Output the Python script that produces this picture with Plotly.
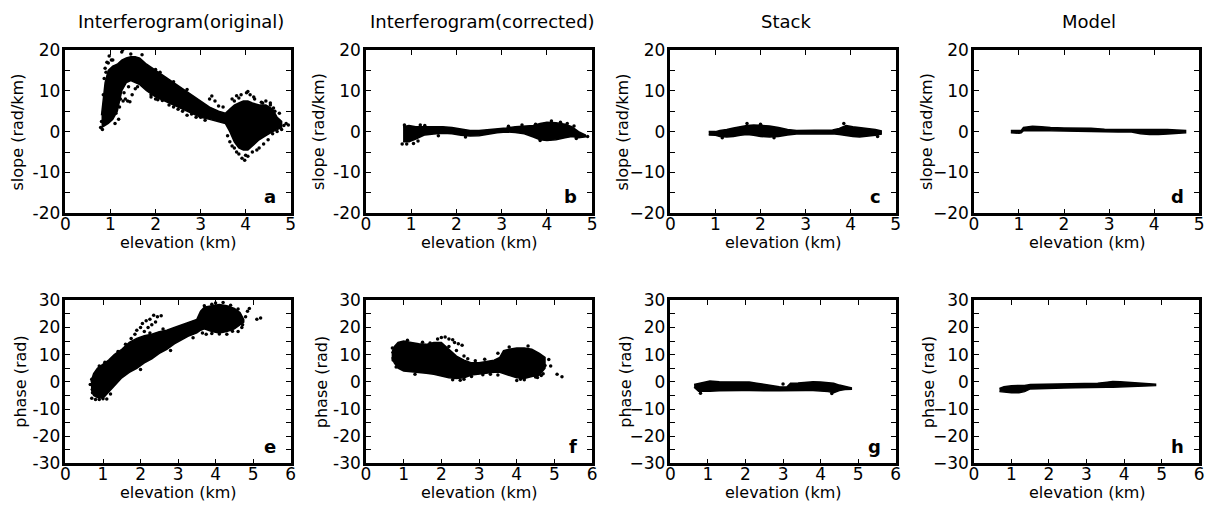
import plotly.graph_objects as go

W, H = 1214, 519

# ---------------- data ----------------
# Each panel: dense cloud envelope (x stations, upper, lower) + scattered outlier points
a_env_x = [0.8, 0.88, 0.95, 1.05, 1.15, 1.25, 1.35, 1.45, 1.55, 1.65, 1.8, 2.0, 2.2, 2.4, 2.6, 2.8, 3.0, 3.2, 3.4, 3.55, 3.65, 3.75, 3.85, 3.95, 4.05, 4.15, 4.3, 4.45, 4.6, 4.7, 4.8]
a_env_top = [4, 12, 15, 16, 16.5, 17.5, 18, 18.3, 18.3, 18, 16.5, 15, 13.5, 12, 10.5, 9, 7.5, 6, 5, 4.5, 5.5, 6.5, 7, 7.5, 7.5, 7, 6.5, 6.5, 5.5, 3.5, 2.5]
a_env_bot = [1, 1.5, 2, 3, 5, 10, 12, 12.5, 12, 11.5, 10, 8.5, 7.5, 6.5, 5.5, 4.5, 3.5, 3, 2.5, 2, 0, -2.5, -4, -4.5, -4.5, -3.5, -2, -1, 0, 0.5, 1]
a_dot_x = [0.78, 0.8, 0.82, 0.85, 0.84, 0.86, 0.9, 0.92, 0.97, 1.02, 1.1, 1.12, 1.18, 1.2, 1.22, 1.28, 1.33, 1.38, 1.43, 1.48, 1.3, 1.25, 1.27, 1.4, 1.55, 1.6, 1.9, 2.05, 2.3, 2.5, 2.7, 2.9, 3.1, 3.25, 3.32, 3.4, 3.5, 3.6, 3.65, 3.7, 3.75, 3.8, 3.85, 3.92, 3.98, 4.05, 4.02, 4.1, 4.15, 4.2, 4.3, 4.38, 4.45, 4.5, 4.55, 4.6, 4.65, 4.7, 4.75, 4.8, 4.85, 4.9, 4.95,
           1.9, 2.0, 2.15, 2.4, 2.6, 2.8, 3.0, 2.0, 2.1, 2.4, 2.7, 3.2, 3.75, 3.85, 3.9, 4.05, 4.18, 4.35, 4.55, 4.62, 4.75, 3.7, 3.8, 4.0, 4.25, 4.4, 1.45, 1.7, 1.05, 0.95, 0.88]
a_dot_y = [1.0, 2.5, 0.5, 5, 9, 13, 14.5, 17, 18.5, 17.5, 2, 4.5, 3, 6, 8, 7.5, 8, 7.5, 7.3, 9, 9.5, 19.5, 20, 11, 10.5, 11, 9, 7.8, 6.5, 5.5, 4, 3.5, 2.8, 8.7, 7.5, 6.3, 6, -1, -2.5, 8, -4, 8.8, -5.5, -6.5, -7, -6, 9.5, 9, -5, 8, -4, 7, 7.5, -2, 6.5, -0.5, 5, 0, 2.5, 0.5, 1.5, 2, 1.6,
           8.5, 8.0, 7.6, 6.0, 5.0, 4.3, 3.5, 15.2, 14.5, 12.2, 10.3, 8.0, 7.5, 8.2, 9.0, 9.8, 8.5, 7.2, 7.0, 5.8, 4.5, -3.5, -5.0, -5.8, -4.5, -3.0, 19.0, 18.8, 17.5, 16.8, 15.5]

b_env_x = [0.82, 0.95, 1.1, 1.3, 1.5, 1.7, 1.9, 2.1, 2.3, 2.5, 2.7, 2.9, 3.1, 3.3, 3.5, 3.7, 3.85, 4.0, 4.2, 4.4, 4.55, 4.7, 4.85]
b_env_top = [1.2, 1.5, 1.2, 1.2, 1.3, 1.2, 1.0, 0.6, 0.3, 0.3, 0.5, 0.6, 0.9, 1.2, 1.3, 1.5, 2.0, 2.3, 2.2, 1.8, 1.2, 0.0, -0.8]
b_env_bot = [-2.5, -2.5, -1.8, -0.8, -0.6, -0.4, -0.5, -0.9, -1.1, -1.0, -0.6, -0.3, -0.1, -0.2, -0.5, -1.3, -2.0, -2.2, -2.0, -1.5, -1.2, -1.5, -1.3]
b_dot_x = [0.8, 0.85, 1.05, 1.3, 3.15, 3.45, 4.1, 4.3, 3.85, 4.9, 4.65, 1.6, 0.9, 1.15, 1.2, 3.75, 4.45, 4.6, 2.2]
b_dot_y = [-3, 1.6, -2.9, 1.5, 1.3, 1.6, 2.6, 2.3, -2.2, -1.2, -1.7, -1.0, -3.0, -2.3, 1.6, 1.8, 2.0, 1.4, -1.3]

c_env_x = [0.85, 1.0, 1.1, 1.25, 1.4, 1.55, 1.7, 1.85, 2.0, 2.2, 2.4, 2.6, 2.8, 3.0, 3.3, 3.6, 3.75, 3.9, 4.05, 4.2, 4.4, 4.55, 4.68]
c_env_top = [0.0, 0.0, 0.3, 0.5, 0.9, 1.2, 1.5, 1.6, 1.5, 1.4, 1.0, 0.5, 0.3, 0.3, 0.3, 0.4, 0.8, 1.5, 1.2, 1.0, 0.8, 0.5, 0.2]
c_env_bot = [-0.8, -0.9, -1.2, -1.3, -1.2, -0.9, -0.7, -0.9, -1.2, -1.3, -1.2, -0.8, -0.6, -0.5, -0.5, -0.5, -0.7, -0.9, -1.2, -1.3, -1.1, -0.9, -0.6]
c_dot_x = [1.7, 2.0, 1.15, 2.3, 3.85, 4.6]
c_dot_y = [2.0, 1.8, -1.5, -1.5, 2.0, -1.2]

d_env_x = [0.82, 1.0, 1.05, 1.1, 1.3, 1.5, 1.7, 2.0, 2.3, 2.6, 2.9, 3.2, 3.5, 3.7, 3.9, 4.1, 4.3, 4.5, 4.7]
d_env_top = [0.3, 0.3, 0.3, 1.0, 1.3, 1.2, 1.0, 0.9, 0.9, 0.8, 0.6, 0.6, 0.6, 0.5, 0.6, 0.6, 0.5, 0.4, 0.3]
d_env_bot = [-0.3, -0.4, -0.3, 0.2, 0.3, 0.3, 0.2, 0.1, 0.1, 0.0, -0.1, -0.1, -0.1, -0.5, -0.7, -0.7, -0.6, -0.5, -0.3]
d_dot_x = []
d_dot_y = []

e_env_x = [0.68, 0.75, 0.85, 1.0, 1.15, 1.3, 1.5, 1.7, 1.9, 2.1, 2.3, 2.5, 2.7, 2.9, 3.1, 3.3, 3.5, 3.6, 3.7, 3.9, 4.1, 4.3, 4.5, 4.65, 4.75]
e_env_top = [0, 3, 5, 6.5, 8, 10, 12, 14.5, 16, 17, 17.5, 18.5, 19, 20, 21, 22, 23, 26, 27.5, 28, 28.5, 28, 27, 25.5, 23]
e_env_bot = [-2.5, -5, -5.8, -6, -4, -1.5, 1.5, 3.5, 5, 7, 8.5, 10.5, 12, 14, 15.5, 17, 18, 19, 19.5, 18.5, 18, 18.5, 19.5, 21, 22]
e_dot_x = [1.75, 1.85, 1.9, 2.0, 2.05, 2.1, 2.15, 2.2, 2.25, 2.3, 2.35, 2.4, 2.45, 2.55, 2.25, 2.4, 2.6, 2.7, 2.2, 2.35, 1.8, 1.6, 3.0, 3.1, 3.3, 3.45, 3.55, 3.65, 3.75, 4.3, 4.6, 4.7, 4.8, 4.85, 4.9, 5.1, 5.2, 1.25, 0.7, 0.8, 1.1,
           0.66, 0.7, 0.72, 0.9, 1.0, 1.2, 0.9, 1.05, 1.4, 1.6, 3.7, 3.9, 4.0, 4.2, 4.4, 4.6, 4.72, 4.45, 4.1, 3.9, 3.4, 2.0, 2.8]
e_dot_y = [16, 17.5, 19, 20, 21.5, 18.5, 22.5, 20, 23, 21, 24.5, 22, 24, 24.3, 18, 15, 19.5, 16.5, 11, 13, 10.5, 8, 16, 18.5, 21, 20, 21, 18, 17.5, 17.5, 18.5, 20, 24, 26, 27, 23, 23.5, 7.5, -6, -6.5, -6.3,
           -1, 1, -4, -6.5, -6.2, -4.5, 5.8, 7.2, 11.2, 13.8, 28, 28.6, 29, 29.2, 28.2, 26.8, 21, 18.6, 17.6, 17.8, 16.2, 4.5, 11.5]

f_env_x = [0.68, 0.75, 0.85, 1.0, 1.2, 1.4, 1.6, 1.8, 2.0, 2.2, 2.4, 2.6, 2.8, 3.0, 3.2, 3.4, 3.55, 3.65, 3.8, 4.0, 4.2, 4.4, 4.6, 4.75]
f_env_top = [10.5, 13, 14.5, 15, 14.5, 14, 13.8, 14.5, 14.5, 12, 9.5, 8, 7, 7, 7.5, 8, 9, 11.5, 12, 12.5, 12.5, 12, 10.5, 9]
f_env_bot = [9, 7, 5, 4, 3.8, 3.5, 3.2, 2.8, 2.2, 1.5, 1.2, 1.5, 2.5, 3, 3.2, 3.5, 3.5, 3.2, 2.5, 1.5, 1.2, 2, 2.5, 5]
f_dot_x = [1.9, 2.0, 2.1, 2.2, 2.3, 2.35, 2.45, 2.55, 2.2, 2.4, 2.6, 2.7, 2.9, 3.15, 3.5, 3.5, 2.5, 2.3, 1.3, 4.0, 4.2, 4.5, 4.65, 4.85, 4.9, 4.75, 5.07, 5.2, 4.3, 3.8,
           0.7, 0.72, 0.8, 1.1, 1.5, 1.7, 2.6, 2.8, 3.1, 3.3, 4.1, 4.55, 4.7]
f_dot_y = [15.8, 16.3, 16.5, 15.8, 15.5, 14.5, 14, 13.5, 13, 11.5, 9.5, 8.5, 7.8, 8.3, 10.5, 2.5, 0.6, 0.8, 2.8, 0.5, 0.8, 1.8, 2.3, 8.2, 5.8, 6, 2.8, 1.9, 13.2, 12.8,
           12.5, 8.0, 5.5, 15.3, 14.6, 14.3, 1.0, 2.0, 2.6, 2.8, 1.0, 1.6, 3.0]

g_env_x = [0.63, 0.75, 0.9, 1.05, 1.3, 1.6, 1.9, 2.1, 2.3, 2.5, 2.7, 2.9, 3.1, 3.2, 3.4, 3.6, 3.8, 4.0, 4.2, 4.35, 4.5, 4.65, 4.82]
g_env_top = [-1.0, -0.6, 0.0, 0.3, 0.0, -0.1, 0.0, -0.1, -0.5, -0.9, -1.4, -1.8, -1.9, -0.5, -0.4, -0.2, 0.0, -0.1, -0.3, -0.5, -1.2, -1.8, -2.2]
g_env_bot = [-2.0, -3.5, -3.6, -3.5, -3.3, -3.2, -3.2, -3.2, -3.2, -3.2, -3.3, -3.3, -3.3, -3.3, -3.3, -3.2, -3.2, -3.3, -3.6, -4.0, -3.2, -2.8, -2.7]
g_dot_x = [0.8, 3.0, 4.3]
g_dot_y = [-4.2, -0.8, -4.3]

h_env_x = [0.68, 0.8, 1.0, 1.2, 1.35, 1.5, 1.8, 2.1, 2.4, 2.7, 3.0, 3.3, 3.55, 3.7, 3.9, 4.1, 4.3, 4.5, 4.7, 4.84]
h_env_top = [-2.4, -1.8, -1.4, -1.4, -1.3, -1.0, -0.9, -0.8, -0.7, -0.7, -0.6, -0.5, -0.1, 0.1, 0.0, -0.2, -0.4, -0.5, -0.7, -0.9]
h_env_bot = [-3.6, -3.9, -4.0, -4.0, -3.6, -2.6, -2.5, -2.4, -2.3, -2.2, -2.1, -2.0, -2.0, -2.0, -1.9, -1.8, -1.7, -1.6, -1.5, -1.4]
h_dot_x = []
h_dot_y = []

titles = ["Interferogram(original)", "Interferogram(corrected)", "Stack", "Model"]
letters = ["a", "b", "c", "d", "e", "f", "g", "h"]
slope_label = "slope (rad/km)"
phase_label = "phase (rad)"
x_label = "elevation (km)"
slope_ticks = [-20, -10, 0, 10, 20]
phase_ticks = [-30, -20, -10, 0, 10, 20, 30]

panels = [
    (a_env_x, a_env_top, a_env_bot, a_dot_x, a_dot_y),
    (b_env_x, b_env_top, b_env_bot, b_dot_x, b_dot_y),
    (c_env_x, c_env_top, c_env_bot, c_dot_x, c_dot_y),
    (d_env_x, d_env_top, d_env_bot, d_dot_x, d_dot_y),
    (e_env_x, e_env_top, e_env_bot, e_dot_x, e_dot_y),
    (f_env_x, f_env_top, f_env_bot, f_dot_x, f_dot_y),
    (g_env_x, g_env_top, g_env_bot, g_dot_x, g_dot_y),
    (h_env_x, h_env_top, h_env_bot, h_dot_x, h_dot_y),
]

# ---------------- layout geometry (pixels) ----------------
cols = [(61, 288), (364, 592), (671, 898), (977, 1204)]
rows = [(41.5, 211.5), (302, 471.5)]
FONT = "DejaVu Sans"

def px(x):
    return x / W

def py(y):
    return 1 - y / H

fig = go.Figure()
layout = dict(
    width=W, height=H, margin=dict(l=0, r=0, t=0, b=0),
    paper_bgcolor="white", plot_bgcolor="white", showlegend=False,
    font=dict(family=FONT, color="black", size=17),
)
annotations = []

for i, (ex, et, eb, dx, dy) in enumerate(panels):
    r, c = divmod(i, 4)
    k = i + 1
    xa = "x" if k == 1 else f"x{k}"
    ya = "y" if k == 1 else f"y{k}"
    fig.add_trace(go.Scatter(
        x=list(ex) + list(ex)[::-1], y=list(et) + list(eb)[::-1],
        mode="lines", fill="toself", fillcolor="black",
        line=dict(color="black", width=1.5), xaxis=xa, yaxis=ya, hoverinfo="skip"))
    if dx:
        fig.add_trace(go.Scatter(
            x=dx, y=dy, mode="markers",
            marker=dict(color="black", size=3.5, line=dict(width=0)),
            xaxis=xa, yaxis=ya))
    l, rr = cols[c]
    t, b = rows[r]
    xmax = 5 if r == 0 else 6
    minus = "-" if c < 2 else "\u2212"
    yt = slope_ticks if r == 0 else phase_ticks
    ytext = [(minus + str(abs(v))) if v < 0 else str(v) for v in yt]
    yminor = [v + 5 for v in yt[:-1]]
    axis_common = dict(
        showline=True, linecolor="black", linewidth=2.5, mirror="allticks",
        ticks="inside", ticklen=5, tickwidth=1, tickcolor="black",
        showgrid=False, zeroline=False, tickfont=dict(family=FONT, size=17, color="black"),
        fixedrange=True,
    )
    layout["xaxis" if k == 1 else f"xaxis{k}"] = dict(
        axis_common, domain=[px(l), px(rr)], range=[0, xmax],
        tickmode="array", tickvals=list(range(0, xmax + 1)),
        ticktext=[str(v) for v in range(0, xmax + 1)],
        anchor=ya, ticklabelstandoff=-6)
    layout["yaxis" if k == 1 else f"yaxis{k}"] = dict(
        axis_common, domain=[py(b), py(t)], range=[yt[0], yt[-1]],
        tickmode="array", tickvals=yt, ticktext=ytext, anchor=xa,
        minor=dict(tickmode="array", tickvals=yminor, ticks="inside", ticklen=5,
                   tickwidth=1, tickcolor="black", showgrid=False),
        ticklabelstandoff=-1)
    # panel letter
    annotations.append(dict(
        text=f"<b>{letters[i]}</b>", xref="paper", yref="paper",
        x=px(rr - 13), y=py(b - 18), xanchor="right", yanchor="middle",
        showarrow=False, font=dict(family=FONT, size=18, color="black")))
    # x label
    annotations.append(dict(
        text=x_label, xref="paper", yref="paper",
        x=px((l + rr) / 2), y=py(b + 30), xanchor="center", yanchor="middle",
        showarrow=False, font=dict(family=FONT, size=16, color="black")))
    # y label
    annotations.append(dict(
        text=slope_label if r == 0 else phase_label, xref="paper", yref="paper",
        x=px(l - (48 if r == 0 else 45)), y=py((t + b) / 2), xanchor="center", yanchor="middle",
        textangle=-90, showarrow=False, font=dict(family=FONT, size=16, color="black")))
    if r == 0:
        annotations.append(dict(
            text=titles[c], xref="paper", yref="paper",
            x=px((l + rr) / 2 + 3), y=py(12), xanchor="center", yanchor="middle",
            showarrow=False, font=dict(family=FONT, size=18, color="black")))

layout["annotations"] = annotations
fig.update_layout(**layout)
fig.write_html("out.html")
